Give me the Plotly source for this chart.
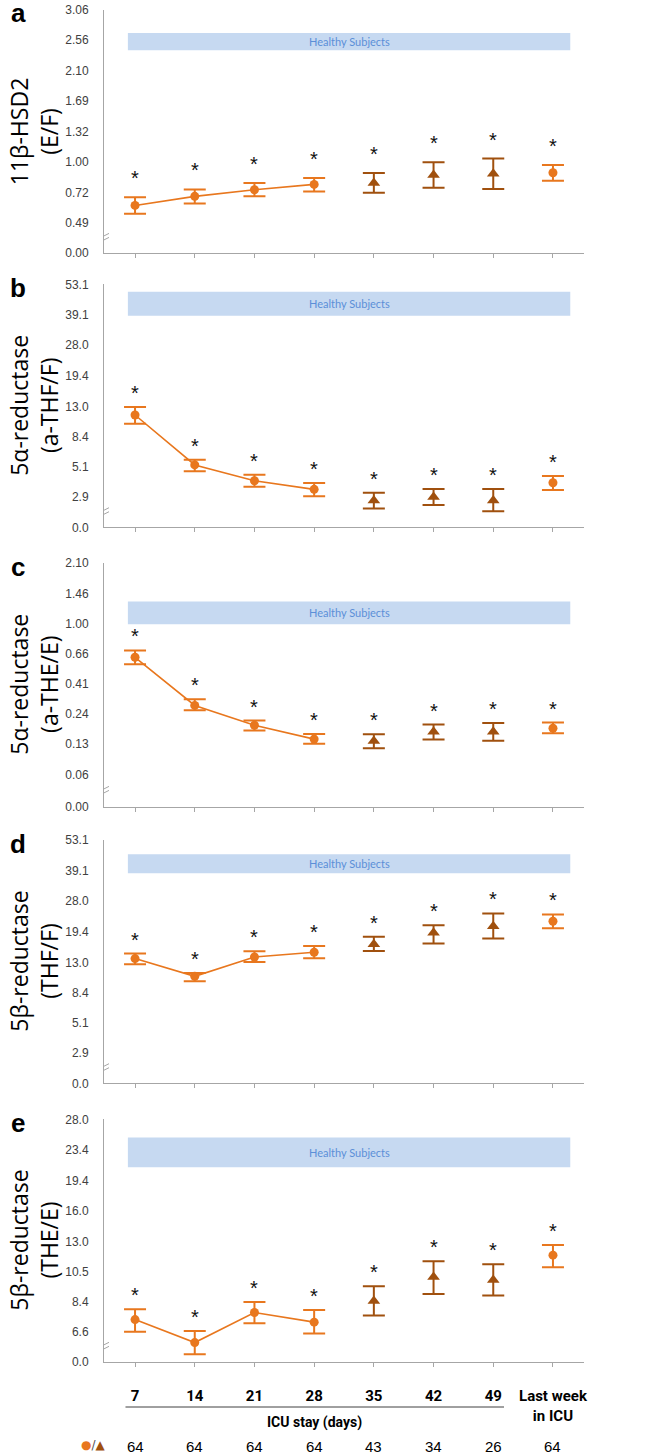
import plotly.graph_objects as go

# ---------------- data ----------------
categories = ["7", "14", "21", "28", "35", "42", "49", "Last week<br>in ICU"]
n_counts = ["64", "64", "64", "64", "43", "34", "26", "64"]
circle_idx = [0, 1, 2, 3]      # connected by line
triangle_idx = [4, 5, 6]
last_idx = [7]

# panel a: 11β-HSD2 (E/F)
a_mean = [0.617, 0.689, 0.744, 0.790, 0.803, 0.874, 0.885, 0.895]
a_lo = [0.554, 0.632, 0.689, 0.730, 0.719, 0.762, 0.750, 0.823]
a_hi = [0.682, 0.747, 0.802, 0.847, 0.893, 0.996, 1.032, 0.968]
a_band = [2.40, 2.67]
a_ticks = ["0.49", "0.72", "1.00", "1.32", "1.69", "2.10", "2.56", "3.06"]

# panel b: 5α-reductase (a-THF/F)
b_mean = [11.54, 5.28, 3.98, 3.38, 2.71, 2.91, 2.71, 3.83]
b_lo = [10.17, 4.72, 3.55, 2.95, 2.29, 2.47, 2.16, 3.33]
b_hi = [12.92, 5.78, 4.44, 3.81, 3.16, 3.41, 3.41, 4.34]
b_band = [38.6, 49.4]
b_ticks = ["2.9", "5.1", "8.4", "13.0", "19.4", "28.0", "39.1", "53.1"]

# panel c: 5α-reductase (a-THE/E)
c_mean = [0.622, 0.280, 0.191, 0.143, 0.137, 0.167, 0.167, 0.180]
c_lo = [0.560, 0.256, 0.172, 0.129, 0.117, 0.142, 0.138, 0.162]
c_hi = [0.689, 0.313, 0.210, 0.160, 0.159, 0.194, 0.200, 0.202]
c_band = [0.995, 1.33]
c_ticks = ["0.06", "0.13", "0.24", "0.41", "0.66", "1.00", "1.46", "2.10"]

# panel d: 5β-reductase (THF/F)
d_mean = [13.69, 10.67, 13.99, 14.91, 16.57, 19.14, 20.80, 22.09]
d_lo = [12.65, 9.92, 13.07, 13.75, 15.17, 16.72, 17.83, 20.30]
d_hi = [14.65, 11.19, 15.11, 16.19, 18.20, 21.05, 24.25, 23.96]
d_band = [37.9, 46.1]
d_ticks = ["2.9", "5.1", "8.4", "13.0", "19.4", "28.0", "39.1", "53.1"]

# panel e: 5β-reductase (THE/E)
e_mean = [7.28, 6.03, 7.70, 7.13, 8.43, 10.10, 9.88, 11.82]
e_lo = [6.59, 5.46, 7.07, 6.50, 7.52, 8.89, 8.79, 10.84]
e_hi = [7.90, 6.64, 8.35, 7.86, 9.43, 11.32, 11.08, 12.70]
e_band = [21.1, 25.2]
e_ticks = ["6.6", "8.4", "10.5", "13.0", "16.0", "19.4", "23.4", "28.0"]

letters = ["a", "b", "c", "d", "e"]
titles = ["11β-HSD2<br>(E/F)", "5α-reductase<br>(a-THF/F)", "5α-reductase<br>(a-THE/E)",
          "5β-reductase<br>(THF/F)", "5β-reductase<br>(THE/E)"]
powers = [0.5, 0.25, 0.25, 0.25, 0.25]   # axis scale: sqrt / fourth root
zero_labels = ["0.00", "0.0", "0.00", "0.0", "0.0"]

# ---------------- style ----------------
W, H = 645, 1456
ORANGE = "#E8771E"
BROWN = "#A0500E"
BAND = "#C6D9F1"
BANDTXT = "#5B8FD8"
AXIS = "#A6A6A6"
TICKTXT = "#404040"
NARROW = "Roboto, Liberation Sans"
panel_px = [(9.5, 253), (284.3, 527.3), (562.7, 806.7), (840, 1083.3), (1119.3, 1362)]
ast_off = [15, 10, 10, 10, 10]
x_left, x_right = 104, 584
xrange_ = [-0.52, 7.52]


def px_x(v):
    return v / W


def px_y(v):
    return 1 - v / H


means = [a_mean, b_mean, c_mean, d_mean, e_mean]
los = [a_lo, b_lo, c_lo, d_lo, e_lo]
his = [a_hi, b_hi, c_hi, d_hi, e_hi]
bands = [a_band, b_band, c_band, d_band, e_band]
ticks = [a_ticks, b_ticks, c_ticks, d_ticks, e_ticks]

fig = go.Figure()
layout = dict(width=W, height=H, template="none",
              margin=dict(l=0, r=0, t=0, b=0, pad=0, autoexpand=False),
              paper_bgcolor="white", plot_bgcolor="white", showlegend=False,
              shapes=[], annotations=[])


def T(v, p):
    return v ** p


def sub(lst, idx):
    return [lst[j] for j in idx]


for i in range(5):
    p = powers[i]
    k = "" if i == 0 else str(i + 1)
    xr, yr = "x" + k, "y" + k
    mean, lo, hi = means[i], los[i], his[i]
    tm = [T(v, p) for v in mean]
    tl = [T(v, p) for v in lo]
    th = [T(v, p) for v in hi]
    tpos = [T(float(t), p) for t in ticks[i]]
    step = tpos[1] - tpos[0]
    zero_pos = tpos[0] - step

    for idx, sym, col, size, mode in [
        (circle_idx, "circle", ORANGE, 9, "lines+markers"),
        (triangle_idx, "triangle-up", BROWN, 11, "markers"),
        (last_idx, "circle", ORANGE, 9, "markers"),
    ]:
        fig.add_trace(go.Scatter(
            x=sub(categories, idx), y=sub(tm, idx), mode=mode,
            xaxis=xr, yaxis=yr,
            line=dict(color=col, width=1.6),
            marker=dict(symbol=sym, size=size, color=col),
            error_y=dict(type="data", symmetric=False,
                         array=[th[j] - tm[j] for j in idx],
                         arrayminus=[tm[j] - tl[j] for j in idx],
                         color=col, thickness=2, width=11),
            cliponaxis=False,
        ))

    y0px, y1px = panel_px[i]
    layout["xaxis" + k] = dict(
        domain=[px_x(x_left), px_x(x_right)], anchor=yr, type="category",
        categoryorder="array", categoryarray=categories, automargin=False,
        range=xrange_, showline=True, linecolor=AXIS, linewidth=1,
        ticks="outside", ticklen=4, tickcolor=AXIS, showgrid=False, zeroline=False,
        showticklabels=(i == 4), ticklabeloverflow="allow",
        tickfont=dict(family=NARROW, size=15, color="black"),
        ticklabelstandoff=16,
    )
    if i == 4:
        layout["xaxis" + k]["tickvals"] = categories
        layout["xaxis" + k]["ticktext"] = ["<b>%s</b>" % c for c in categories]
    layout["yaxis" + k] = dict(
        domain=[px_y(y1px), px_y(y0px)], anchor=xr, automargin=False,
        range=[zero_pos, tpos[-1]], showline=True, linecolor=AXIS, linewidth=1,
        ticks="", showgrid=False, zeroline=False, ticklabeloverflow="allow",
        tickvals=[zero_pos] + tpos, ticktext=[zero_labels[i]] + ticks[i],
        tickfont=dict(family="Liberation Sans, Arial", size=12, color=TICKTXT),
        ticklabelstandoff=12,
    )

    # healthy-subjects band
    b0, b1 = T(bands[i][0], p), T(bands[i][1], p)
    layout["shapes"].append(dict(type="rect", xref=xr, yref=yr, x0=-0.12, x1=7.29,
                                 y0=b0, y1=b1, fillcolor=BAND, line=dict(width=0),
                                 layer="below"))
    layout["annotations"].append(dict(xref=xr, yref=yr, x=3.585, y=(b0 + b1) / 2,
                                      text="Healthy Subjects", showarrow=False,
                                      xanchor="center", yanchor="middle",
                                      font=dict(family="Lato, Open Sans", size=11, color=BANDTXT)))
    # axis break marks
    mid = (zero_pos + tpos[0]) / 2
    layout["shapes"].append(dict(type="rect", xref=xr, yref=yr, xsizemode="pixel",
                                 ysizemode="pixel", xanchor=xrange_[0], yanchor=mid,
                                 x0=-3, x1=3, y0=-2, y1=2, fillcolor="white",
                                 line=dict(width=0)))
    for dy in (-2, 2):
        layout["shapes"].append(dict(type="line", xref=xr, yref=yr, xsizemode="pixel",
                                     ysizemode="pixel", xanchor=xrange_[0], yanchor=mid,
                                     x0=-5, x1=5, y0=dy - 2.5, y1=dy + 2.5,
                                     line=dict(color=AXIS, width=1)))
    # asterisks
    for j in range(len(categories)):
        layout["annotations"].append(dict(xref=xr, yref=yr, x=j, y=th[j],
                                          text="*", showarrow=False,
                                          xanchor="center", yanchor="middle",
                                          yshift=ast_off[i] + 4,
                                          font=dict(family="Liberation Sans, Arial", size=20,
                                                    color="#111111")))
    # y title
    layout["annotations"].append(dict(xref="paper", yref="paper", x=px_x(34),
                                      y=px_y((y0px + y1px) / 2), text=titles[i],
                                      textangle=-90, showarrow=False,
                                      xanchor="center", yanchor="middle",
                                      font=dict(family="Open Sans", size=23, color="black")))
    # panel letter
    layout["annotations"].append(dict(xref="paper", yref="paper", x=px_x(18),
                                      y=px_y(y0px + 4), text="<b>%s</b>" % letters[i],
                                      showarrow=False, xanchor="center", yanchor="middle",
                                      font=dict(family="Liberation Sans, Arial", size=26,
                                                color="black")))

# ICU stay bracket and n counts
layout["shapes"].append(dict(type="line", xref="x5", yref="paper", x0=-0.16, x1=6.18,
                             y0=px_y(1407), y1=px_y(1407),
                             line=dict(color="#404040", width=1)))
layout["annotations"].append(dict(xref="x5", yref="paper", x=3.0, y=px_y(1422),
                                  text="<b>ICU stay (days)</b>", showarrow=False,
                                  xanchor="center", yanchor="middle",
                                  font=dict(family=NARROW, size=14, color="black")))
for j in range(len(categories)):
    layout["annotations"].append(dict(xref="x5", yref="paper", x=j, y=px_y(1446),
                                      text=n_counts[j], showarrow=False,
                                      xanchor="center", yanchor="middle",
                                      font=dict(family="Liberation Sans, Arial", size=15,
                                                color="black")))
layout["annotations"].append(dict(
    xref="paper", yref="paper", x=px_x(93), y=px_y(1445), showarrow=False,
    xanchor="center", yanchor="middle",
    text='<span style="color:%s">●</span><span style="color:#555555">/</span>'
         '<span style="color:%s">▲</span>' % (ORANGE, BROWN),
    font=dict(family="DejaVu Sans", size=12, color="black")))

fig.update_layout(**layout)
fig.write_html("out.html", config={"displayModeBar": False},
               post_script="document.body.style.margin='0';document.body.style.overflow='hidden';")
